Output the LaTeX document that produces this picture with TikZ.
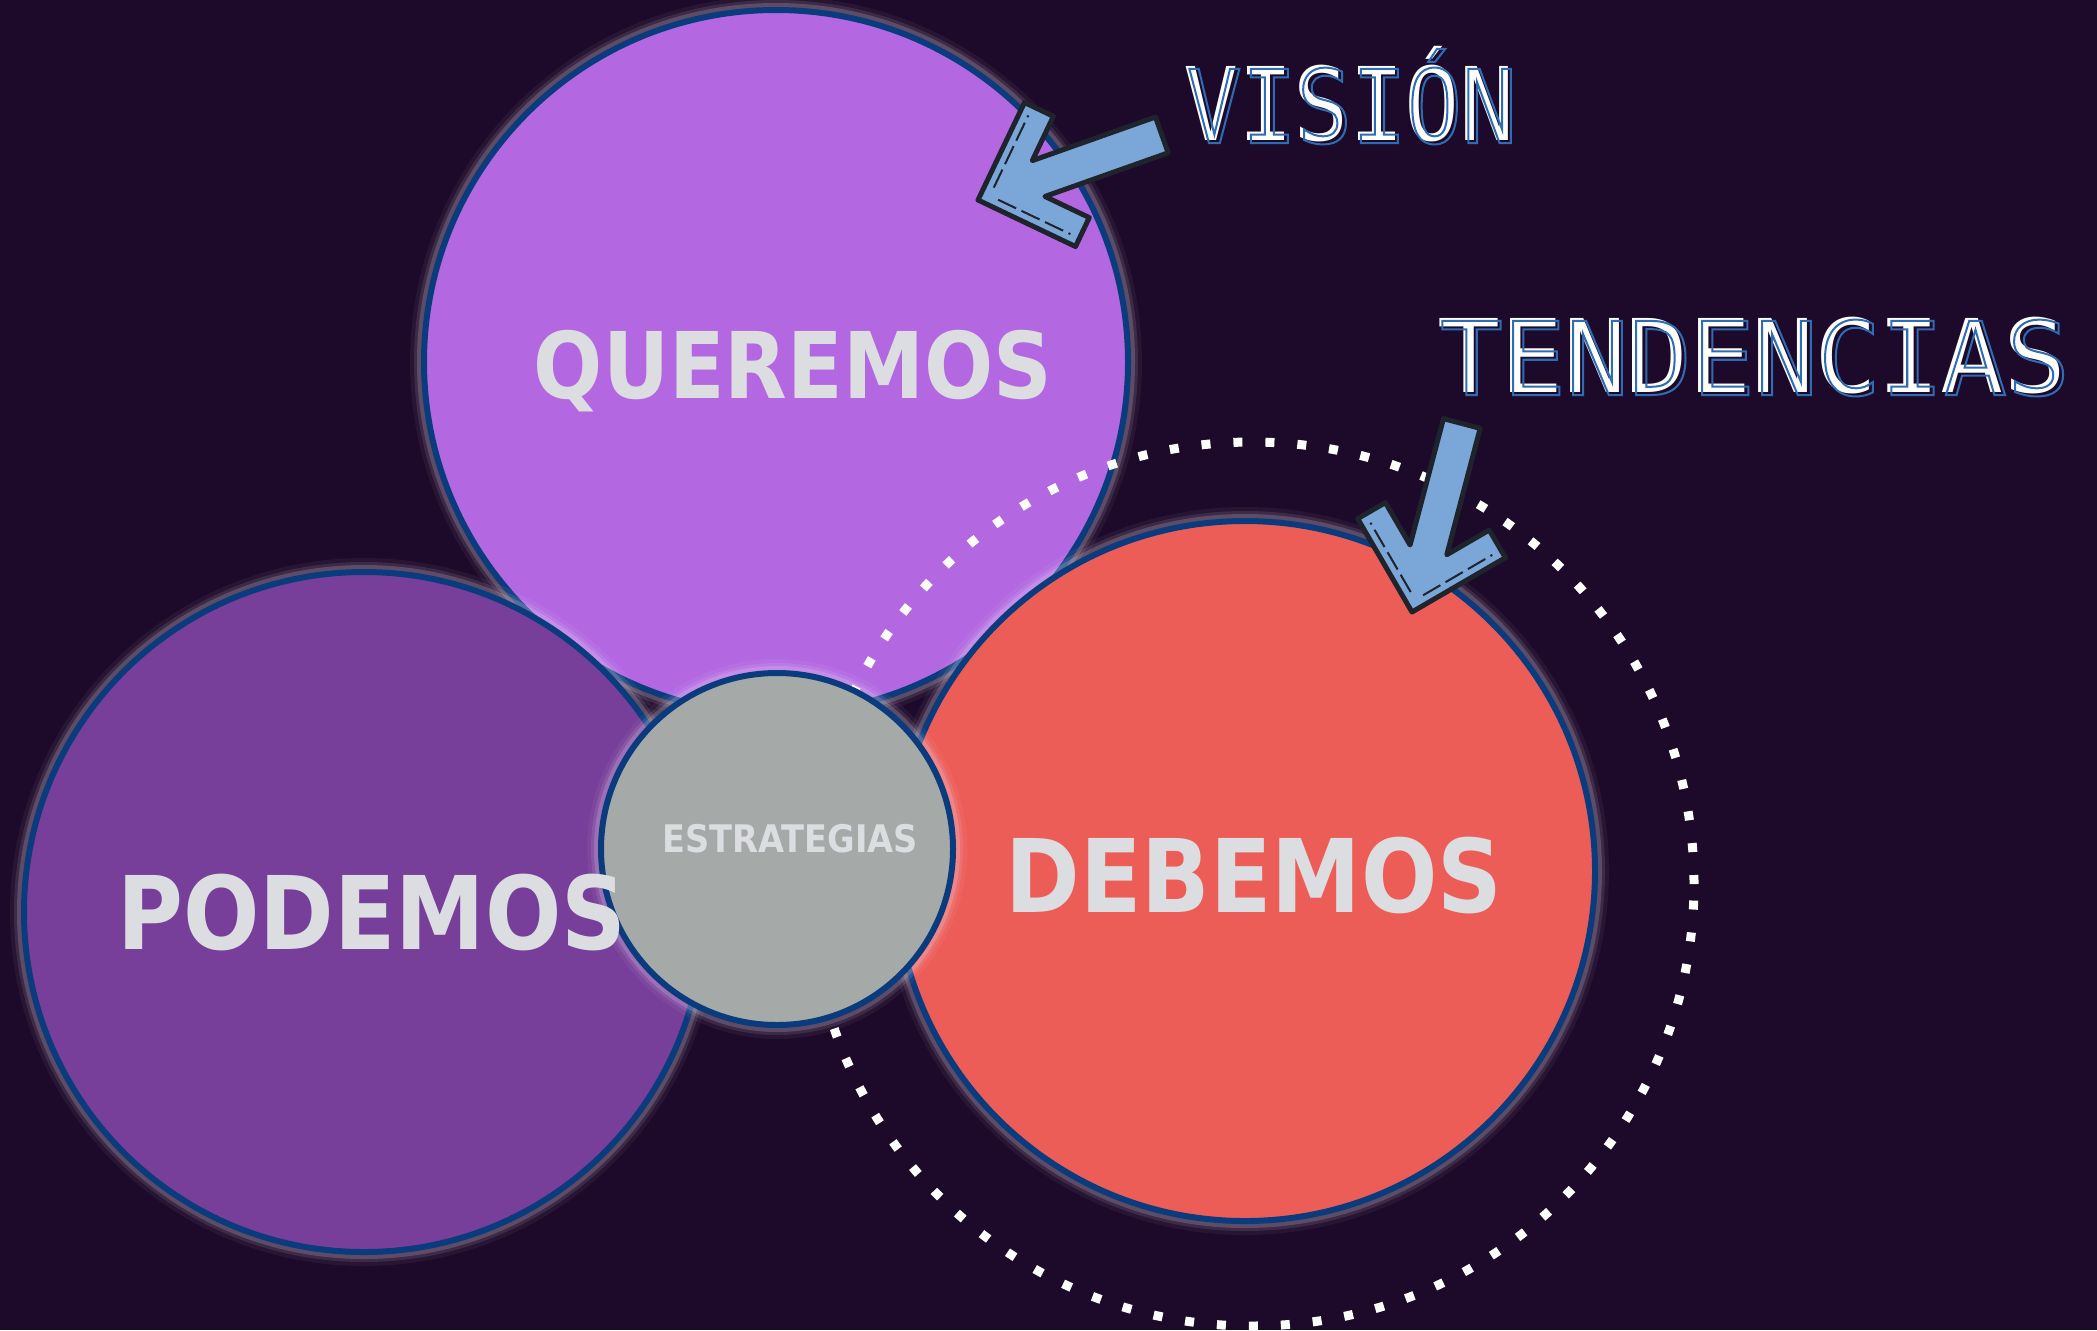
\documentclass[tikz,border=0pt]{standalone}
\usepackage{fontspec}
\usepackage{graphicx}
\newfontfamily\blobfont[FakeStretch=0.885]{DejaVu Sans}
\newfontfamily\visionfont[FakeStretch=0.90]{DejaVu Sans Mono}
\newfontfamily\trendfont[FakeStretch=1.03]{DejaVu Sans Mono}
\definecolor{colorNight}{HTML}{1D0A2A}
\definecolor{colorWant}{HTML}{B368E2}
\definecolor{colorCan}{HTML}{773F99}
\definecolor{colorMust}{HTML}{EC5D58}
\definecolor{colorCore}{HTML}{A5A9A8}
\definecolor{colorRing}{HTML}{0A3C7D}
\definecolor{colorLabel}{HTML}{DCDDE0}
\definecolor{colorPointer}{HTML}{7BA6D8}
\definecolor{colorPointerEdge}{HTML}{1E232C}
\definecolor{colorSign}{HTML}{2E6DB4}
\definecolor{colorGlow}{HTML}{F6E6F8}
\usetikzlibrary{positioning}
\tikzset{
  blob/.style={circle, inner sep=0pt, draw=colorRing, line width=3pt,
    preaction={draw=colorGlow, draw opacity=0.05, line width=14pt},
    preaction={draw=colorGlow, draw opacity=0.10, line width=10pt},
    preaction={draw=colorGlow, draw opacity=0.18, line width=7pt}},
  blobtext/.style={font=\blobfont\bfseries\fontsize{#1}{#1}\selectfont, text=colorLabel, anchor=base, inner sep=0pt},
  blobtext/.default=50.8,
  dotring/.style={circle, inner sep=0pt, draw=white, line width=4.5pt, dash pattern=on 4.5pt off 11.5pt},
  signtext/.style={anchor=base, inner sep=0pt},
  pointer/.style={fill=colorPointer, draw=colorPointerEdge, line width=2.5pt, line join=round},
  pointerline/.style={draw=colorPointerEdge, line width=1pt, dash pattern=on 10pt off 3pt},
  pics/pointer/.style={code={
    \draw[pointer] (0,0) -- (76.4,-76.4) -- (99,-53.7) -- (64.3,-19) -- (195,-19)
      -- (195,19) -- (64.3,19) -- (99,53.7) -- (76.4,76.4) -- cycle;
    \draw[pointerline] (19,-6.4) -- (75.7,-63);
    \draw[pointerline] (19,6.4) -- (75.7,63);
  }}
}

\begin{document}
\begin{tikzpicture}[x=0.5pt, y=-0.5pt]
\useasboundingbox (0,0) rectangle (2097,1330);
\fill[colorNight] (0,0) rectangle (2097,1330);
% the three circles and the ring of trends
\node[blob, fill=colorWant, minimum size=352pt] (want) at (776,362) {};
\node[blob, fill=colorCan, minimum size=340pt] (can) at (364,912) {};
\node[dotring, minimum size=442pt] (trend) at (1252,884) {};
\node[blob, fill=colorMust, minimum size=350pt] (must) at (1245,871) {};
\node[blob, fill=colorCore, minimum size=176pt] (core) at (777,849) {};
% pointers
\pic[rotate=19.5] at (978,200) {pointer};
\pic[rotate=75.2] at (1412,612) {pointer};
% outlined titles
\node[signtext, text=white, font=\visionfont\fontsize{50.8}{56}\selectfont] (vision) at (1349,140) {VISIÓN};
\node[signtext, text=colorSign, font=\visionfont\fontsize{50.8}{56}\selectfont] (visionEdge) at (1352,143) {\special{pdf:literal direct 1 Tr 1 w}VISIÓN\special{pdf:literal direct 0 Tr}};
\node[signtext, text=white, font=\trendfont\fontsize{50.8}{56}\selectfont] (trends) at (1752,392) {TENDENCIAS};
\node[signtext, text=colorSign, font=\trendfont\fontsize{50.8}{56}\selectfont] (trendsEdge) at (1755,395) {\special{pdf:literal direct 1 Tr 1 w}TENDENCIAS\special{pdf:literal direct 0 Tr}};
% labels
\node[blobtext=46] (wantText) at (793,398) {QUEREMOS};
\node[blobtext] (canText) at (372,949) {PODEMOS};
\node[blobtext] (mustText) at (1254,912) {DEBEMOS};
\node[blobtext=19] (coreText) at (790,852) {ESTRATEGIAS};
\end{tikzpicture}
\end{document}
